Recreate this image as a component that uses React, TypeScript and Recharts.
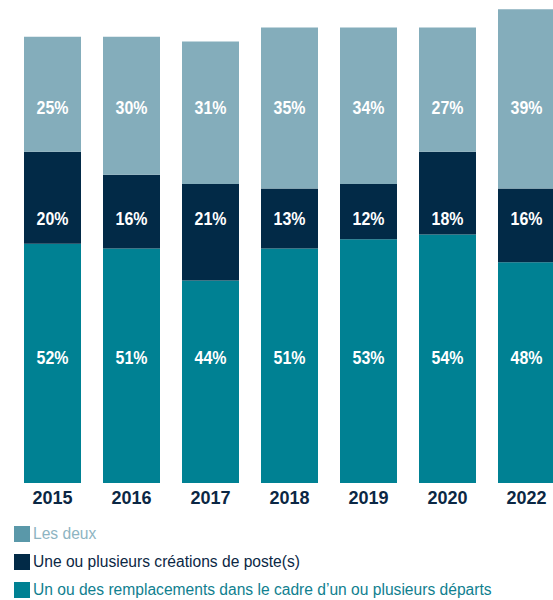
import React from "react";
import { Bar, BarChart, LabelList, XAxis, YAxis } from "recharts";

const years = ["2015", "2016", "2017", "2018", "2019", "2020", "2022"];
const remplacements = [52, 51, 44, 51, 53, 54, 48];
const creations = [20, 16, 21, 13, 12, 18, 16];
const lesDeux = [25, 30, 31, 35, 34, 27, 39];

const data = years.map((year, i) => ({
  year,
  remplacements: remplacements[i],
  creations: creations[i],
  lesDeux: lesDeux[i],
}));

const legendItems = [
  { label: "Les deux", swatch: "#5a98a9", text: "#8db4c2" },
  { label: "Une ou plusieurs créations de poste(s)", swatch: "#022a47", text: "#0b2744" },
  { label: "Un ou des remplacements dans le cadre d\u2019un ou plusieurs départs", swatch: "#008193", text: "#10808f" },
];

// labels sit on fixed rows, squeezed horizontally to mimic a narrow bold font
const rowLabel = (rowY: number) => (props: any) => {
  const { x, width, value } = props;
  return (
    <text
      transform={`translate(${x + width / 2}, ${rowY}) scale(0.84, 1)`}
      fill="#fff"
      textAnchor="middle"
      dominantBaseline="central"
      style={{ fontFamily: "'Liberation Sans', Arial, sans-serif", fontWeight: 700, fontSize: 19 }}
    >
      {value}%
    </text>
  );
};

export default function App() {
  return (
    <div style={{ position: "absolute", left: 0, top: 0, width: 553, height: 600, overflow: "hidden", fontFamily: "'Liberation Sans', Arial, sans-serif" }}>
      <BarChart width={580} height={513} data={data} margin={{ top: 0, right: 14, left: 13, bottom: 0 }} barSize={57}>
        <YAxis hide domain={[0, 105]} />
        <XAxis
          dataKey="year"
          axisLine={false}
          tickLine={false}
          height={30}
          interval={0}
          tick={{ fill: "#0b2744", fontSize: 18, fontWeight: 700 }}
        />
        <Bar dataKey="remplacements" stackId="a" fill="#008193" isAnimationActive={false}>
          <LabelList dataKey="remplacements" content={rowLabel(358)} />
        </Bar>
        <Bar dataKey="creations" stackId="a" fill="#022a47" isAnimationActive={false}>
          <LabelList dataKey="creations" content={rowLabel(219)} />
        </Bar>
        <Bar dataKey="lesDeux" stackId="a" fill="#84adbb" isAnimationActive={false}>
          <LabelList dataKey="lesDeux" content={rowLabel(108)} />
        </Bar>
      </BarChart>
      <div style={{ position: "absolute", left: 14, top: 520 }}>
        {legendItems.map((item) => (
          <div key={item.label} style={{ display: "flex", alignItems: "center", height: 28 }}>
            <span style={{ width: 16, height: 16, background: item.swatch, marginRight: 3, flex: "none" }} />
            <span style={{ color: item.text, fontSize: 15.6, whiteSpace: "nowrap" }}>{item.label}</span>
          </div>
        ))}
      </div>
    </div>
  );
}
